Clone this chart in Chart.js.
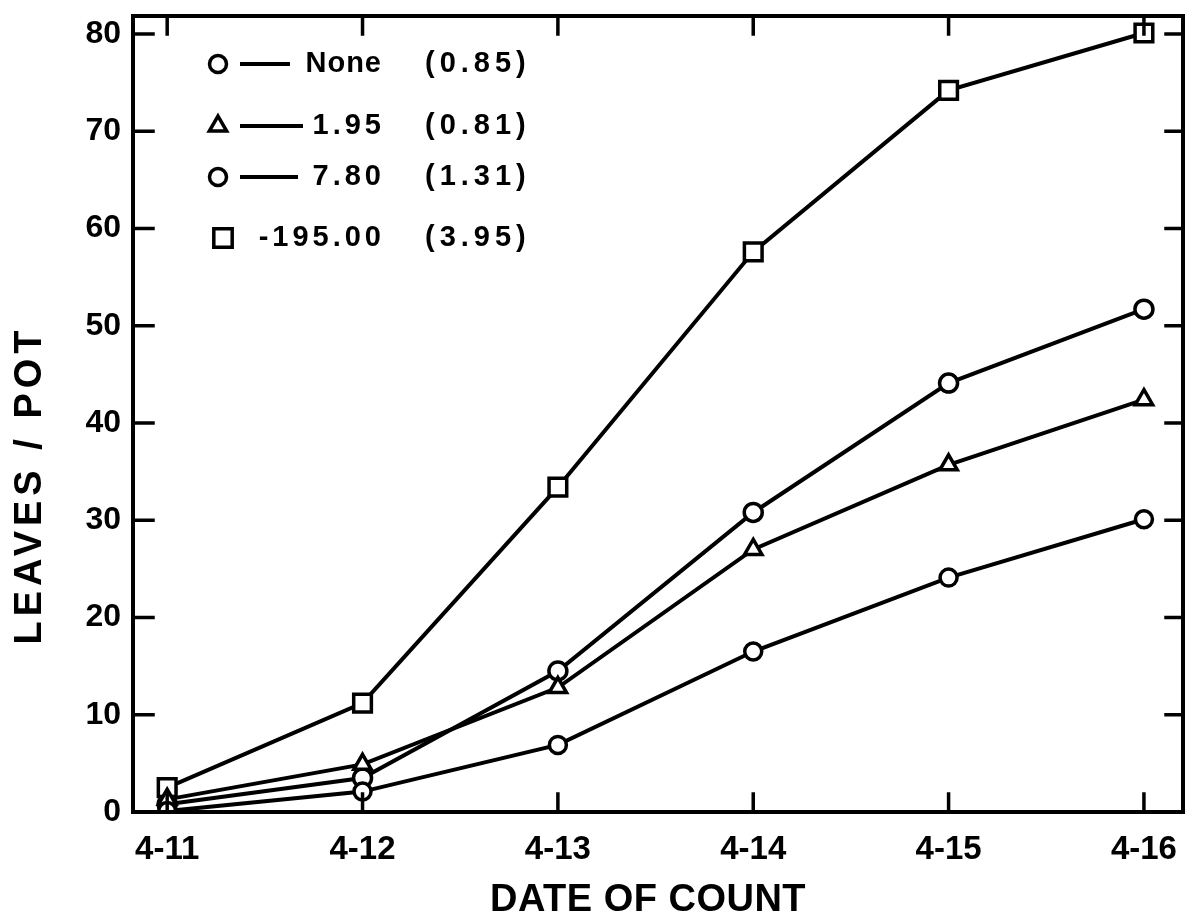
<!DOCTYPE html>
<html>
<head>
<meta charset="utf-8">
<script src="https://cdn.jsdelivr.net/npm/chart.js@4"></script>
<style>
  html, body { margin: 0; padding: 0; background: #fff; }
  #wrap { width: 1199px; height: 923px; }
</style>
</head>
<body>
<div id="wrap"><canvas id="c" width="1199" height="923"></canvas></div>
<script>
// ---- data ----
const dates = ["4-11", "4-12", "4-13", "4-14", "4-15", "4-16"];
const seriesNames = ["None", "1.95", "7.80", "195.00"];
const seriesNotes = ["(0.85)", "(0.81)", "(1.31)", "(3.95)"];
const noneValues = [0.1, 2.1, 6.9, 16.5, 24.1, 30.1];
const v195Values = [1.3, 4.9, 12.8, 27.0, 35.7, 42.4];
const v780Values = [0.8, 3.5, 14.5, 30.8, 44.1, 51.7];
const v19500Values = [2.5, 11.2, 33.4, 57.6, 74.2, 80.1];
const yTicks = [0, 10, 20, 30, 40, 50, 60, 70, 80];
const xTitle = "DATE OF COUNT";
const yTitle = "LEAVES / POT";

const FONT = "'Liberation Sans', Arial, sans-serif";
const toPts = arr => arr.map((v, i) => ({ x: i, y: v }));

const styles = [
  { pointStyle: 'circle', radius: 8.5 },
  { pointStyle: 'triangle', radius: 10 },
  { pointStyle: 'circle', radius: 9 },
  { pointStyle: 'rect', radius: 12.5 }
];
const allValues = [noneValues, v195Values, v780Values, v19500Values];

const datasets = allValues.map((vals, k) => ({
  label: seriesNames[k],
  data: toPts(vals),
  borderColor: '#000',
  borderWidth: 4,
  backgroundColor: '#fff',
  pointStyle: styles[k].pointStyle,
  pointRadius: styles[k].radius,
  pointBorderWidth: 3.5,
  pointBackgroundColor: '#fff',
  pointBorderColor: '#000',
  tension: 0,
  fill: false
}));

const decor = {
  id: 'decor',
  afterDraw(chart) {
    const ctx = chart.ctx;
    const a = chart.chartArea;
    const xs = chart.scales.x, ys = chart.scales.y;
    ctx.save();
    ctx.strokeStyle = '#000';
    ctx.lineCap = 'square';
    // ticks inward
    ctx.lineWidth = 3.5;
    yTicks.forEach(v => {
      const py = ys.getPixelForValue(v);
      ctx.beginPath(); ctx.moveTo(a.left, py); ctx.lineTo(a.left + 20, py); ctx.stroke();
      ctx.beginPath(); ctx.moveTo(a.right, py); ctx.lineTo(a.right - 17, py); ctx.stroke();
    });
    dates.forEach((d, i) => {
      const px = xs.getPixelForValue(i);
      ctx.beginPath(); ctx.moveTo(px, a.bottom); ctx.lineTo(px, a.bottom - 18); ctx.stroke();
      ctx.beginPath(); ctx.moveTo(px, a.top); ctx.lineTo(px, a.top + 18); ctx.stroke();
    });
    // frame
    ctx.lineWidth = 4;
    ctx.lineCap = 'butt';
    ctx.strokeRect(a.left, a.top, a.right - a.left, a.bottom - a.top);

    // legend
    const rows = [64, 126, 177, 238];
    const lineEnds = [290, 303, 298, null];
    const spacing = [1, 4, 4, 4];
    ctx.textBaseline = 'middle';
    rows.forEach((ry, k) => {
      const mx = k === 3 ? 223 : 218;
      ctx.lineWidth = 3.5;
      ctx.strokeStyle = '#000';
      ctx.fillStyle = '#fff';
      const r = k === 3 ? 13 : (k === 1 ? 10 : 8.5);
      Chart.helpers.drawPoint(ctx, {
        pointStyle: styles[k].pointStyle,
        radius: r,
        borderWidth: 3.5,
        rotation: 0
      }, mx, ry);
      if (lineEnds[k]) {
        ctx.lineWidth = 4;
        ctx.beginPath(); ctx.moveTo(240, ry); ctx.lineTo(lineEnds[k], ry); ctx.stroke();
      }
      ctx.fillStyle = '#000';
      ctx.font = 'bold 29px ' + FONT;
      ctx.letterSpacing = spacing[k] + 'px';
      ctx.textAlign = 'right';
      ctx.fillText(k === 3 ? '-' + seriesNames[k] : seriesNames[k], 381 + spacing[k], ry);
      ctx.textAlign = 'left';
      ctx.letterSpacing = '5px';
      ctx.fillText(seriesNotes[k], 425, ry);
    });

    // axis titles
    ctx.fillStyle = '#000';
    ctx.font = 'bold 38px ' + FONT;
    ctx.textAlign = 'center';
    ctx.textBaseline = 'middle';
    ctx.letterSpacing = '0.5px';
    ctx.fillText(xTitle, 648, 901);
    ctx.save();
    ctx.translate(31, 485);
    ctx.rotate(-Math.PI / 2);
    ctx.letterSpacing = '5px';
    ctx.fillText(yTitle, 0, 0);
    ctx.restore();
    ctx.restore();
  }
};

new Chart(document.getElementById('c'), {
  type: 'line',
  data: { datasets },
  options: {
    responsive: false,
    animation: false,
    events: [],
    layout: { padding: { top: 12, right: 13, left: 0, bottom: 0 } },
    plugins: { legend: { display: false }, tooltip: { enabled: false } },
    scales: {
      x: {
        type: 'linear',
        min: -0.175,
        max: 5.2,
        grid: { display: false, drawTicks: false },
        border: { display: false },
        afterBuildTicks: s => { s.ticks = dates.map((d, i) => ({ value: i })); },
        afterFit: s => { s.height = 111; s.paddingLeft = 0; s.paddingRight = 0; },
        ticks: {
          color: '#000',
          padding: 18,
          autoSkip: false,
          maxRotation: 0,
          font: { family: FONT, size: 33, weight: 'bold' },
          callback: v => dates[v]
        }
      },
      y: {
        type: 'linear',
        min: 0,
        max: 81.85,
        grid: { display: false, drawTicks: false },
        border: { display: false },
        afterBuildTicks: s => { s.ticks = yTicks.map(v => ({ value: v })); },
        afterFit: s => { s.width = 133; s.paddingTop = 0; s.paddingBottom = 0; },
        ticks: {
          color: '#000',
          padding: 12,
          font: { family: FONT, size: 32, weight: 'bold' },
          callback: v => String(v)
        }
      }
    }
  },
  plugins: [decor]
});
</script>
</body>
</html>
